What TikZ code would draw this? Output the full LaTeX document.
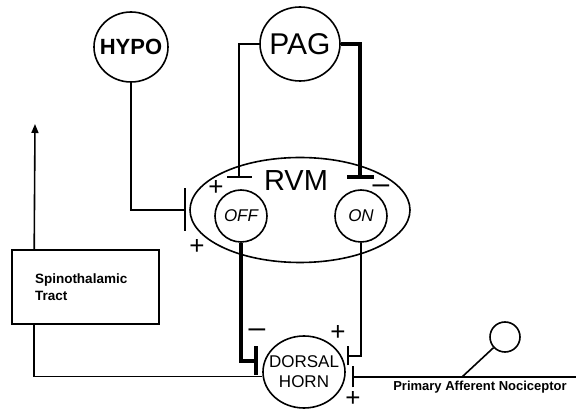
\documentclass[tikz,border=0pt]{standalone}
\usepackage{fontspec}
\setmainfont{Liberation Sans}
\usetikzlibrary{arrows.meta, positioning, shapes.geometric, calc}

\begin{document}
\begin{tikzpicture}[x=1pt, y=-1pt,
    nucleus/.style={
        ellipse, draw, line width=1.6pt, inner sep=0pt
    },
    cell/.style={
        circle, draw, line width=1.6pt, inner sep=0pt,
        minimum size=52pt,
        font=\itshape\fontsize{17}{17}\selectfont
    },
    fibre/.style={line width=1.6pt},
    thickfibre/.style={line width=3.6pt},
    sign/.style={font=\fontsize{26}{26}\selectfont, inner sep=0pt}
]

\useasboundingbox (0,0) rectangle (576,411);

% === NUCLEI ===

\node[nucleus, minimum width=74pt, minimum height=70pt,
    label={[font=\bfseries\fontsize{22}{22}\selectfont]center:HYPO}] (hypo) at (131,47) {};
\node[nucleus, minimum width=80pt, minimum height=74pt,
    label={[font=\fontsize{30}{30}\selectfont]center:PAG}] (pag) at (300,44) {};
\node[nucleus, minimum width=220pt, minimum height=105pt] (rvm) at (300,210) {};
\node[font=\fontsize{29}{29}\selectfont, inner sep=0pt] (rvmlbl) at (296,181) {RVM};
\node[cell] (off) at (241,216) {OFF};
\node[cell] (on) at (361,216) {ON};
\node[nucleus, minimum width=82pt, minimum height=72pt,
    label={[align=center, font=\fontsize{17}{20}\selectfont]center:DORSAL\\HORN}] (dh) at (304,372) {};

% === TRACT AND AFFERENT ===

\node[rectangle, draw, line width=1.6pt,
    minimum width=147pt, minimum height=74pt,
    text width=101pt, inner xsep=23pt, align=left,
    font=\bfseries\fontsize{13.5}{17}\selectfont] (stt) at (85.5,287) {Spinothalamic\\Tract};

\node[circle, draw, line width=1.6pt, minimum size=30pt, inner sep=0pt] (noci) at (505,337) {};
\node[font=\bfseries\fontsize{13}{13}\selectfont] (paflbl) at (480,387) {Primary Afferent Nociceptor};

\coordinate (hypoT) at (186,210);
\coordinate (pagL) at (239,178);
\coordinate (pagR) at (360,179);
\coordinate (offT) at (258,361);
\coordinate (onT) at (347,356);
\coordinate (pafT) at (352,377);
\coordinate (pafR) at (576,377);
\coordinate (nocibase) at (462,377);
\coordinate (ascend) at (35,124);

% === CONNECTIONS ===

\draw[fibre, -{Bar[width=43pt, line width=2.2pt]}] (hypo) |- (hypoT);
\draw[fibre, -{Bar[width=25pt, line width=2.2pt]}] (pag) -| (pagL);
\draw[thickfibre, -{Bar[width=27pt]}] (pag) -| (pagR);
\draw[thickfibre, -{Bar[width=29pt]}] (off) |- (offT);
\draw[fibre, -{Bar[width=19pt, line width=2.2pt]}] (on) |- (onT);
\draw[fibre, -{Bar[width=21pt, line width=2.2pt]}] (pafR) -- (pafT);
\draw[fibre] (noci) -- (nocibase);
\draw[fibre] (dh.186) -| ([xshift=23pt]stt.south west);
\draw[fibre, -{Triangle[length=9pt, width=7pt]}] ([xshift=23pt]stt.north west) -- (ascend);

% === SIGNS ===

\node[sign] (offplus) at (216,188) {+};
\node[sign] (hypoplus) at (197,247) {+};
\node[sign] (onplus) at (338,333) {+};
\node[sign] (pafplus) at (353,399) {+};
\node[sign, font=\fontsize{30}{30}\selectfont] (pagminus) at (381,189) {–};
\node[sign, font=\fontsize{30}{30}\selectfont] (offminus) at (257,333) {–};

\end{tikzpicture}
\end{document}
